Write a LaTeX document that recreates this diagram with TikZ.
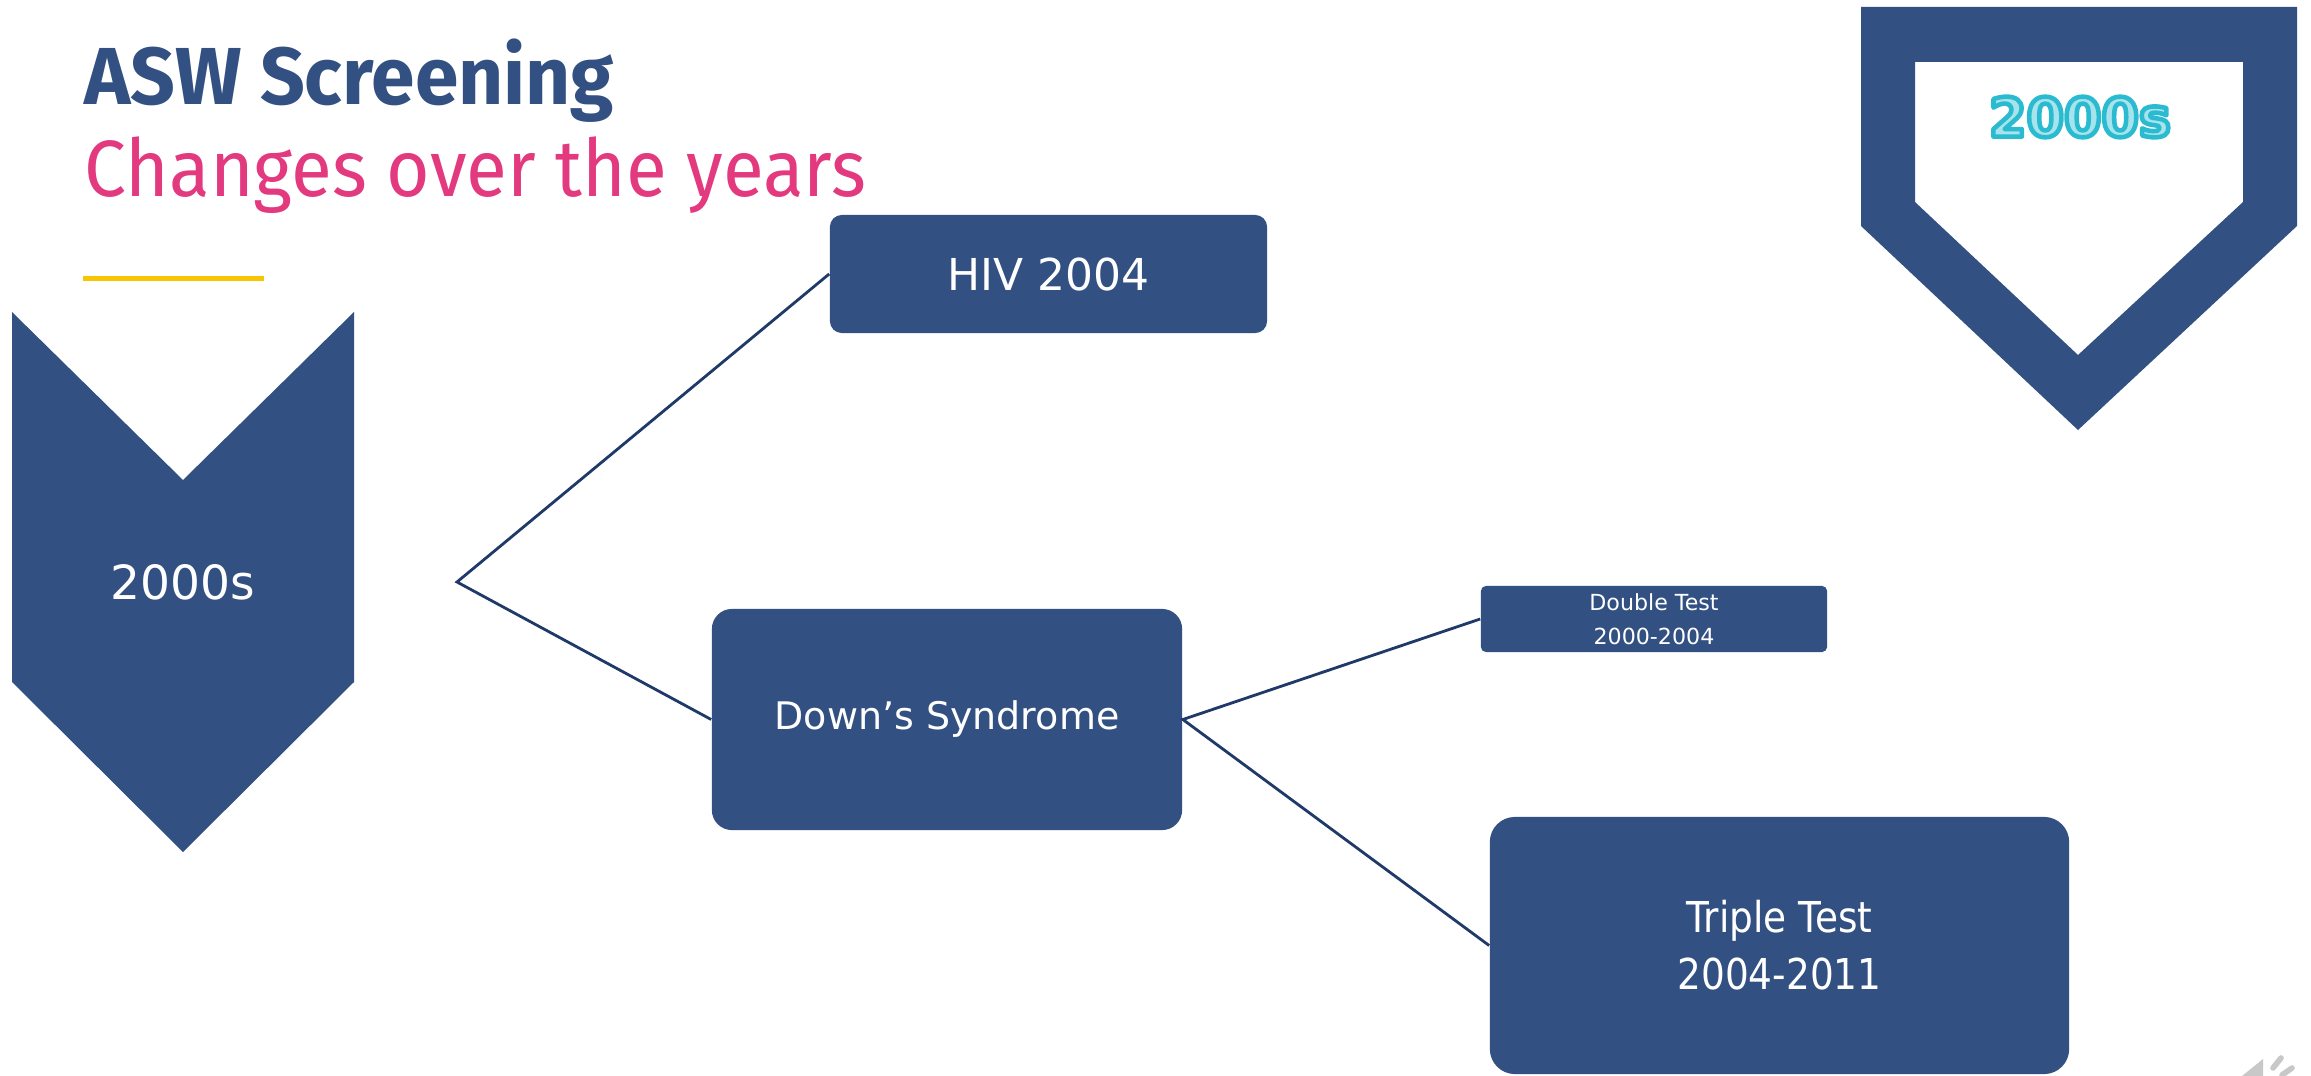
\documentclass[tikz,border=0pt]{standalone}
\usepackage{fontspec}
\setmainfont{DejaVu Sans}
\newfontfamily\titlefont[FakeStretch=0.97]{Fira Sans}
\newfontfamily\subtitlefont[FakeStretch=0.935]{Fira Sans}
\newfontfamily\narrowfont[FakeStretch=0.88]{DejaVu Sans}
\definecolor{navy}{HTML}{325082}
\definecolor{wire}{HTML}{1F3A68}
\definecolor{rose}{HTML}{E2397F}
\definecolor{gold}{HTML}{F7C600}
\definecolor{cyanfill}{HTML}{A6E3EC}
\definecolor{icongray}{HTML}{C8C8C8}
% outlined lettering: fill with the current colour, stroke in cyan
\newcommand\outlined[1]{{\special{pdf:code 0.169 0.733 0.820 RG 1.3 w 1 j 2 Tr}#1\special{pdf:code 0 Tr}}}
\tikzset{
  box/.style={fill=navy, text=white, inner sep=0pt, align=center},
  link/.style={draw=wire, line width=0.8pt},
}
\begin{document}
\begin{tikzpicture}[x=0.01cm, y=-0.01cm]
  \useasboundingbox (0,0) rectangle (2311,1076);
  \fill[white] (0,0) rectangle (2311,1076);

  % heading
  \node[anchor=base west, inner sep=0pt, text=navy,
        font=\titlefont\bfseries\fontsize{23}{27}\selectfont] (title) at (84,105) {ASW Screening};
  \node[anchor=base west, inner sep=0pt, text=rose,
        font=\subtitlefont\fontsize{22.7}{27}\selectfont] (subtitle) at (84,197) {Changes over the years};
  \fill[gold] (83,276.5) rectangle (264,281.5);

  % decade chevron
  \fill[navy] (12,312) -- (183,480) -- (354,312) -- (354,682) -- (183,852) -- (12,682) -- cycle;
  \node[text=white, inner sep=0pt, font=\fontsize{13.4}{16}\selectfont] (era) at (183,582) {2000s};

  % home-plate badge
  \fill[navy, even odd rule]
    (1861,7) -- (2297,7) -- (2297,226) -- (2078,430) -- (1861,226) -- cycle
    (1915,62) -- (2243,62) -- (2243,202) -- (2078,355) -- (1915,202) -- cycle;
  \node[inner sep=0pt, text=cyanfill, font=\bfseries\fontsize{15.3}{18}\selectfont] (badge) at (2080,117)
    {\outlined{2000s}};

  % boxes
  \node[box, minimum width=4.37cm, minimum height=1.18cm, rounded corners=0.12cm,
        font=\fontsize{12.5}{15}\selectfont] (hiv) at (1048.5,274) {HIV 2004};
  \node[box, minimum width=4.70cm, minimum height=2.21cm, rounded corners=0.2cm,
        font=\fontsize{10.8}{13}\selectfont] (downs) at (947,719.5) {Down’s Syndrome};
  \node[box, minimum width=3.46cm, minimum height=0.66cm, rounded corners=0.05cm,
        font=\fontsize{6.3}{9.7}\selectfont] (double) at (1654,619) {Double Test\\2000-2004};
  \node[box, minimum width=5.79cm, minimum height=2.57cm, rounded corners=0.25cm,
        font=\narrowfont\fontsize{12.1}{16.2}\selectfont] (triple) at (1779.5,945.5) {Triple Test\\2004-2011};

  % connectors
  \coordinate (fork) at (457,582);
  \draw[link] (hiv.west) -- (fork) -- (downs.west);
  \draw[link] (double.west) -- (downs.east) -- (triple.west);

  % speaker icon in the corner
  \fill[icongray] (2242,1076) -- (2263,1059) -- (2263,1076) -- cycle;
  \draw[icongray, line width=1.6pt, line cap=round] (2273,1068) -- (2281,1058);
  \draw[icongray, line width=1.6pt, line cap=round] (2282,1075) -- (2292,1068);
\end{tikzpicture}
\end{document}
